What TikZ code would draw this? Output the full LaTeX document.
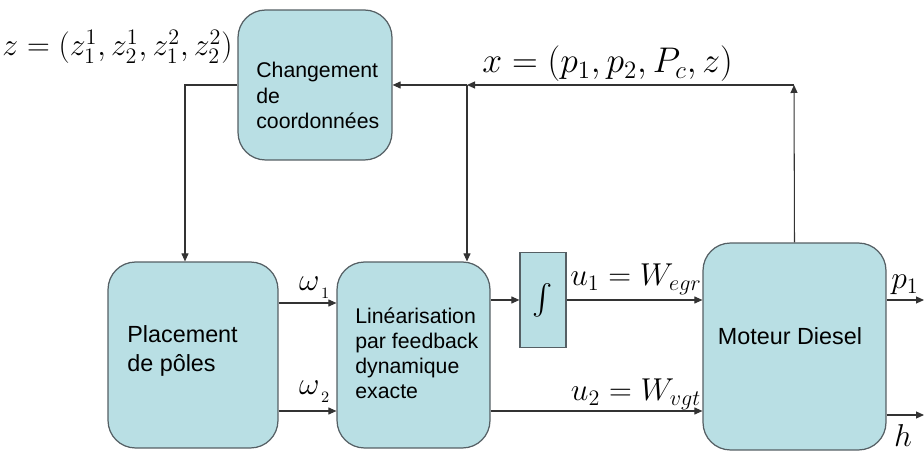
\RequirePackage{fix-cm}
\documentclass[tikz,border=0pt]{standalone}
\usepackage{amsmath}
\usepackage{fontspec}
\usepackage{tikz}
\usetikzlibrary{
	arrows.meta,
	calc,
	positioning
}
\newfontfamily\blocfont{Liberation Sans}
\definecolor{BlocBleu}{RGB}{185,223,228}
\definecolor{BordGris}{RGB}{85,95,100}

\begin{document}
\begin{tikzpicture}[x=0.02cm, y=-0.02cm,
		bloc/.style={draw=BordGris, fill=BlocBleu, line width=0.7pt, rounded corners=0.55cm},
		fleche/.style={-{Triangle[length=1.6mm,width=1.4mm]}, line width=0.6pt, black!80},
		txt/.style={font=\blocfont\fontsize{12.1}{14.4}\selectfont, align=left, inner sep=0pt},
		grandtxt/.style={font=\blocfont\fontsize{13.3}{16.4}\selectfont, align=left, inner sep=0pt},
		eq/.style={font=\fontsize{18}{22}\selectfont, inner sep=0pt}]
			\useasboundingbox (0,0) rectangle (924,452);
			% blocs
			\node[bloc, minimum width=3.08cm, minimum height=3.0cm] (chg) at (315,85) {};
			\node[bloc, minimum width=3.4cm, minimum height=3.72cm] (plc) at (193,355) {};
			\node[bloc, minimum width=3.06cm, minimum height=3.72cm] (lin) at (413.5,355) {};
			\node[draw=BordGris, fill=BlocBleu, line width=0.7pt, minimum width=0.92cm, minimum height=1.9cm] (int) at (543,300) {};
			\node[bloc, minimum width=3.66cm, minimum height=4.14cm] (mot) at (794.5,346.5) {};
			% textes des blocs
			\node[txt, anchor=north west] (chgtxt) at (256,62) {Changement\\de\\coordonnées};
			\node[grandtxt, anchor=north west] (plctxt) at (127,325) {Placement\\de pôles};
			\node[txt, anchor=north west] (lintxt) at (355,307) {Linéarisation\\par feedback\\dynamique\\exacte};
			\node[grandtxt] (mottxt) at (790,336) {Moteur Diesel};
			\node[eq] (inttxt) at (int) {$\int$};
			% points de passage
			\coordinate (k1) at (185,85);
			\coordinate (k2) at (794,85);
			\coordinate (k3) at (467,85);
			\coordinate (w1) at (0,303);
			\coordinate (w2) at (0,411);
			\coordinate (s1) at (924,300);
			\coordinate (s2) at (924,415);
			% liaisons
			\draw[fleche] (chg.west) -- (k1) -- (k1 |- plc.north);
			\draw[fleche] (mot.north) -- (k2);
			\draw[fleche] (k2) -- (k3);
			\draw[fleche] (k3) -- (chg.east);
			\draw[fleche] (k3) -- (k3 |- lin.north);
			\draw[fleche] (plc.east |- w1) -- (lin.west |- w1);
			\draw[fleche] (plc.east |- w2) -- (lin.west |- w2);
			\draw[fleche] (lin.east |- int.west) -- (int.west);
			\draw[fleche] (int.east) -- (int.east -| mot.west);
			\draw[fleche] (lin.east |- w2) -- (mot.west |- w2);
			\draw[fleche] (mot.east |- s1) -- (s1);
			\draw[fleche] (mot.east |- s2) -- (s2);
			% etiquettes
			\node[eq, anchor=east] (zlab) at (233,47) {$z=(z_1^1,z_2^1,z_1^2,z_2^2)$};
			\node[eq, anchor=west, font=\fontsize{20.3}{24}\selectfont] (xlab) at (482,64) {$x=(p_1,p_2,P_c,z)$};
			\node[eq] (om1) at (315,288) {$\omega_{_{\,1}}$};
			\node[eq] (om2) at (315,392) {$\omega_{_{\,2}}$};
			\node[eq] (u1lab) at (636,279) {$u_1=W_{egr}$};
			\node[eq] (u2lab) at (636,394) {$u_2=W_{vgt}$};
			\node[eq] (p1lab) at (905,285) {$p_1$};
			\node[eq] (hlab) at (903,436) {$h$};
		\end{tikzpicture}
\end{document}
